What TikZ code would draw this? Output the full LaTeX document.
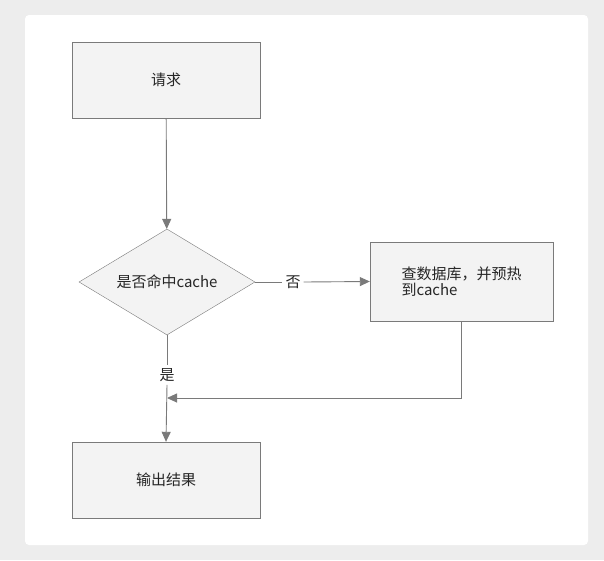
\documentclass[tikz,border=0pt]{standalone}
\usepackage{fontspec}
\setmainfont{Noto Sans CJK SC}
\usetikzlibrary{arrows.meta,positioning,shapes.geometric}
\definecolor{pagebg}{HTML}{EDEDED}
\definecolor{boxfill}{HTML}{F3F3F3}
\definecolor{edgegray}{HTML}{7A7A7A}
\tikzset{
  procbox/.style={draw=edgegray,fill=boxfill,minimum width=188pt,minimum height=76pt,font=\fontsize{15pt}{18pt}\selectfont,text=black!85},
  check/.style={diamond,draw=edgegray,fill=boxfill,minimum width=176pt,minimum height=106pt,aspect=1.66,inner sep=0pt,font=\fontsize{15pt}{18pt}\selectfont,text=black!85},
  flow/.style={draw=edgegray,line width=0.9pt,-{Triangle[length=10pt,width=9pt]}},
  tag/.style={fill=white,font=\fontsize{15pt}{18pt}\selectfont,text=black!85,inner sep=3pt}
}
\begin{document}
\begin{tikzpicture}[x=1pt,y=-1pt]
  \useasboundingbox (0,0) rectangle (604,560);
  \fill[pagebg] (0,0) rectangle (604,560);
  \fill[white,rounded corners=4pt] (25,15) rectangle (588,545);
  % nodes
  \node[procbox] (req) at (166,80) {请求};
  \node[check] (hit) at (167,282) {是否命中cache};
  \node[procbox,minimum width=183pt,minimum height=79pt,align=left] (db) at (461.5,281.5) {查数据库，并预热\\[-2pt]到cache};
  \node[procbox] (out) at (166,480) {输出结果};
  \node[tag] (no) at (293,282) {否};
  \node[tag] (yes) at (167,375) {是};
  \coordinate (turn) at (db.south |- 0,398);
  \coordinate (join) at (167,398);
  % connectors
  \draw[flow] (req) -- (hit);
  \draw[draw=edgegray,line width=0.9pt] (hit.east) -- (no.west);
  \draw[flow] (no.east) -- (db.west);
  \draw[draw=edgegray,line width=0.9pt] (hit.south) -- (yes.north);
  \draw[flow] (yes.south) -- (out.north);
  \draw[flow] (db.south) -- (turn) -- (join);
\end{tikzpicture}
\end{document}
